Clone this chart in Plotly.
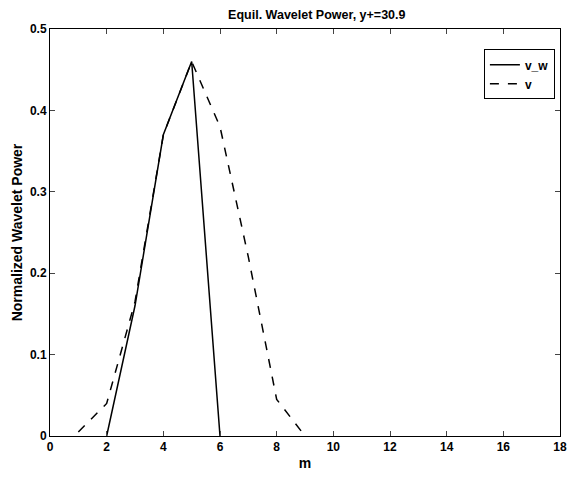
import plotly.graph_objects as go

m_vw = [2, 3, 4, 5, 6]
vw = [0.0, 0.16, 0.37, 0.46, 0.0]

m_v = [1, 2, 3, 4, 5, 6, 7, 8, 9]
v = [0.005, 0.04, 0.165, 0.37, 0.46, 0.38, 0.22, 0.045, 0.0]

xticks = [0, 2, 4, 6, 8, 10, 12, 14, 16, 18]
yticks = [0, 0.1, 0.2, 0.3, 0.4, 0.5]
ytick_text = ["0", "0.1", "0.2", "0.3", "0.4", "0.5"]

fig = go.Figure()
fig.add_trace(go.Scatter(x=m_vw, y=vw, mode="lines", name="v_w",
                         line=dict(color="black", width=1.5)))
fig.add_trace(go.Scatter(x=m_v, y=v, mode="lines", name="v",
                         line=dict(color="black", width=1.5, dash="dash")))

font = dict(family="Liberation Sans, Arial, sans-serif", size=12, color="black",
            weight="bold")

fig.update_layout(
    width=576, height=477,
    margin=dict(l=50, r=9, t=29, b=34),
    paper_bgcolor="white", plot_bgcolor="white",
    font=font,
    title=dict(text="Equil. Wavelet Power, y+=30.9", x=0.55, xanchor="center",
               y=1 - 15 / 477, yanchor="middle", font=dict(size=12.5, weight="bold")),
    showlegend=True,
    legend=dict(x=0.99, xanchor="right", y=0.95, yanchor="top",
                bordercolor="black", borderwidth=1, bgcolor="white",
                font=dict(size=12, weight="bold"), tracegroupgap=0),
)
fig.update_xaxes(range=[0, 18], tickvals=xticks, ticks="inside", ticklen=5,
                 showline=True, linecolor="black", linewidth=1, mirror="ticks",
                 showgrid=False, zeroline=False,
                 title=dict(text="m", standoff=4), tickfont=font)
fig.update_yaxes(range=[0, 0.5], tickvals=yticks, ticktext=ytick_text,
                 ticks="inside", ticklen=5,
                 showline=True, linecolor="black", linewidth=1, mirror="ticks",
                 showgrid=False, zeroline=False,
                 title=dict(text="Normalized Wavelet Power", standoff=4), tickfont=font)

fig.write_html("out.html")
